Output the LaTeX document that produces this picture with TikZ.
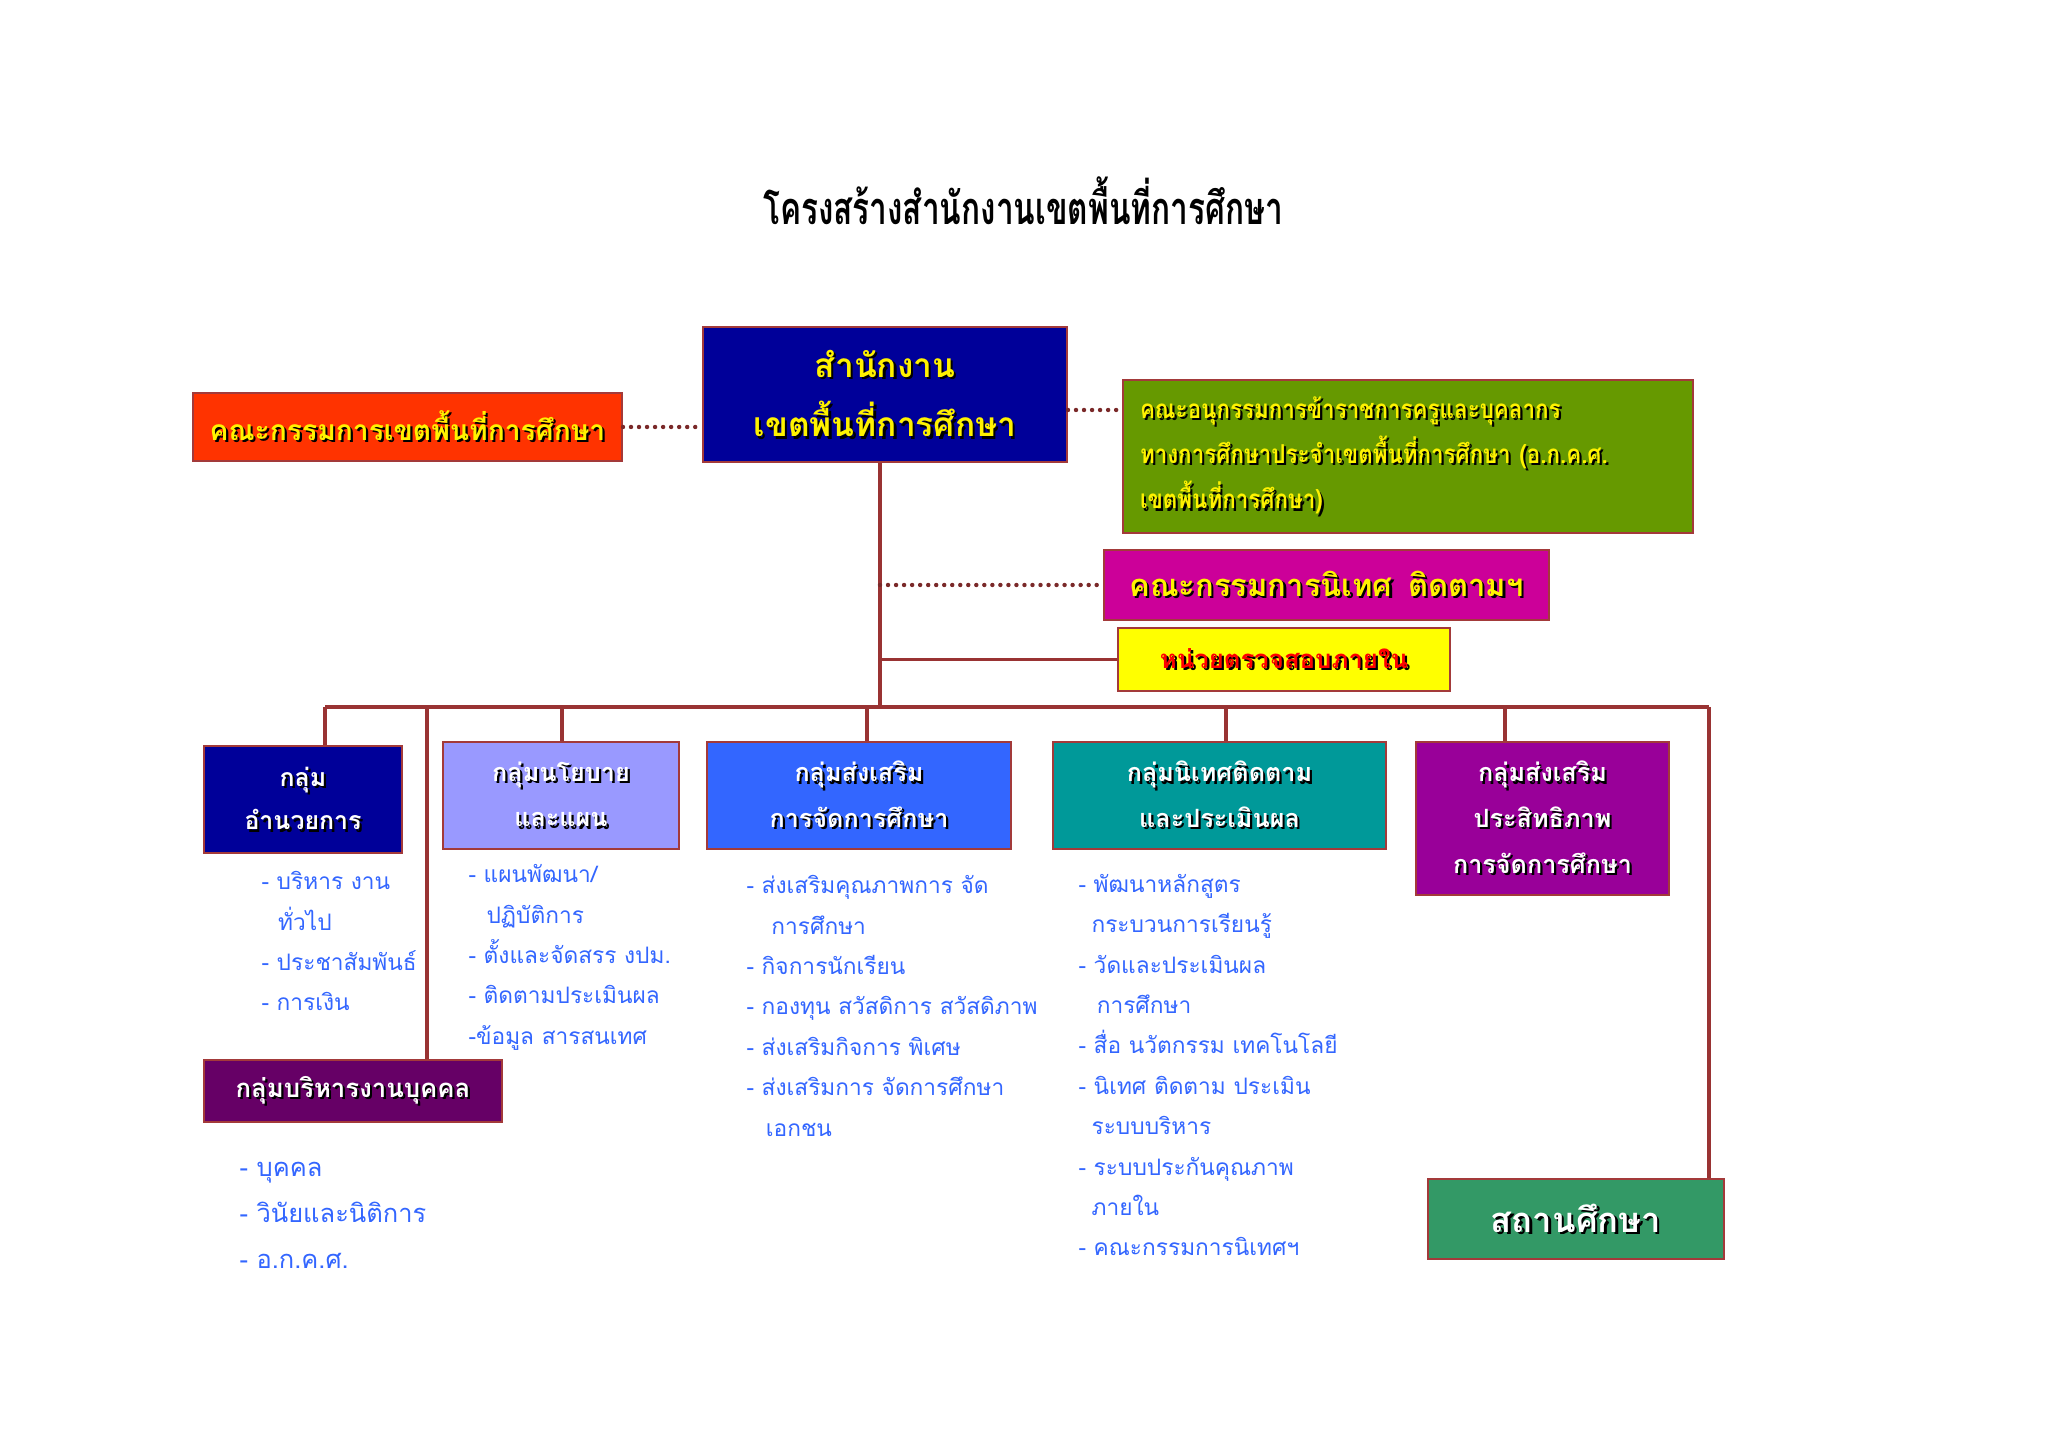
\documentclass[tikz,border=0pt]{standalone}
\usepackage{fontspec}
\setmainfont{Loma}[Script=Thai]
\newfontfamily\titlefont{Loma}[Script=Thai,FakeStretch=0.70]
\newfontfamily\narrowfont{Loma}[Script=Thai,FakeStretch=0.86]
\usepackage{tikz}

\definecolor{linkred}{HTML}{993333}
\definecolor{edgered}{HTML}{A33A3A}
\definecolor{navyfill}{HTML}{000099}
\definecolor{boardfill}{HTML}{FF3300}
\definecolor{councilfill}{HTML}{669900}
\definecolor{supfill}{HTML}{CC0099}
\definecolor{auditfill}{HTML}{FFFF00}
\definecolor{policyfill}{HTML}{9999FF}
\definecolor{promofill}{HTML}{3366FF}
\definecolor{evalfill}{HTML}{009999}
\definecolor{effifill}{HTML}{990099}
\definecolor{staffill}{HTML}{660066}
\definecolor{schoolfill}{HTML}{339966}
\definecolor{listblue}{HTML}{3366FF}

\newcommand{\shd}[1]{\leavevmode\rlap{\kern0.8pt\raisebox{-0.8pt}{\textcolor{black}{#1}}}#1}

\begin{document}
\begin{tikzpicture}[x=1in, y=1in,
  box/.style={draw=edgered, line width=0.7pt, inner sep=0pt, align=center, text=white,
    font=\bfseries\fontsize{9.1}{16.5}\selectfont},
  duty/.style={anchor=north west, inner sep=0pt, align=left, text=listblue,
    font=\fontsize{8.2}{14.6}\selectfont},
  link/.style={linkred, line width=1.1pt},
  dotlink/.style={linkred!80!black, line width=1.6pt, line cap=round, dash pattern=on 0pt off 2.9pt}]
\node[font=\titlefont\bfseries\fontsize{16.3}{16}\selectfont] (title) at (5.115,6.235) {โครงสร้างสำนักงานเขตพื้นที่การศึกษา};
\node[box, fill=navyfill, text=yellow, minimum width=1.82in, minimum height=0.675in, font=\bfseries\fontsize{12.1}{21.6}\selectfont] (office) at (4.425,5.2675) {\shd{สำนักงาน}\\\shd{เขตพื้นที่การศึกษา}};
\node[box, fill=boardfill, text=yellow, minimum width=2.145in, minimum height=0.34in, font=\bfseries\fontsize{10.2}{16}\selectfont] (board) at (2.0375,5.105) {\shd{คณะกรรมการเขตพื้นที่การศึกษา}};
\node[box, fill=councilfill, text=yellow, align=left, text width=2.68in, inner xsep=0.085in, minimum height=0.765in, font=\narrowfont\bfseries\fontsize{9.4}{16.4}\selectfont] (council) at (7.04,4.9575) {\shd{คณะอนุกรรมการข้าราชการครูและบุคลากร}\\\shd{ทางการศึกษาประจำเขตพื้นที่การศึกษา (อ.ก.ค.ศ.}\\\shd{เขตพื้นที่การศึกษา)}};
\node[box, fill=supfill, text=yellow, minimum width=2.225in, minimum height=0.35in, font=\bfseries\fontsize{11.2}{16}\selectfont] (supervise) at (6.6325,4.315) {\shd{คณะกรรมการนิเทศ\enspace ติดตามฯ}};
\node[box, fill=auditfill, text=red, minimum width=1.66in, minimum height=0.315in, font=\bfseries\fontsize{9.3}{16}\selectfont] (audit) at (6.42,3.9425) {\shd{หน่วยตรวจสอบภายใน}};
\node[box, fill=navyfill, minimum width=0.99in, minimum height=0.535in, font=\bfseries\fontsize{9}{15.8}\selectfont] (admin) at (1.515,3.2425) {\shd{กลุ่ม}\\\shd{อำนวยการ}};
\node[box, fill=policyfill, minimum width=1.18in, minimum height=0.535in] (policy) at (2.805,3.2625) {\shd{กลุ่มนโยบาย}\\\shd{และแผน}};
\node[box, fill=promofill, minimum width=1.52in, minimum height=0.535in] (promote) at (4.295,3.2625) {\shd{กลุ่มส่งเสริม}\\\shd{การจัดการศึกษา}};
\node[box, fill=evalfill, minimum width=1.665in, minimum height=0.535in] (evaluate) at (6.0975,3.2625) {\shd{กลุ่มนิเทศติดตาม}\\\shd{และประเมินผล}};
\node[box, fill=effifill, minimum width=1.265in, minimum height=0.765in] (efficiency) at (7.7125,3.1475) {\shd{กลุ่มส่งเสริม}\\\shd{ประสิทธิภาพ}\\\shd{การจัดการศึกษา}};
\node[box, fill=staffill, minimum width=1.49in, minimum height=0.31in, font=\bfseries\fontsize{9.3}{16}\selectfont] (staff) at (1.765,1.785) {\shd{กลุ่มบริหารงานบุคคล}};
\node[box, fill=schoolfill, minimum width=1.48in, minimum height=0.40in, font=\bfseries\fontsize{12.5}{16}\selectfont] (school) at (7.88,1.145) {\shd{สถานศึกษา}};
\node[duty] (admintasks) at (1.305,2.885) {- บริหาร งาน\\\hspace*{6pt}ทั่วไป\\- ประชาสัมพันธ์\\- การเงิน};
\node[duty] (policytasks) at (2.34,2.92) {- แผนพัฒนา/\\\hspace*{6.5pt}ปฏิบัติการ\\- ตั้งและจัดสรร งปม.\\- ติดตามประเมินผล\\-ข้อมูล สารสนเทศ};
\node[duty] (promotetasks) at (3.73,2.865) {- ส่งเสริมคุณภาพการ จัด\\\hspace*{9pt}การศึกษา\\- กิจการนักเรียน\\- กองทุน สวัสดิการ สวัสดิภาพ\\- ส่งเสริมกิจการ พิเศษ\\- ส่งเสริมการ จัดการศึกษา\\\hspace*{7pt}เอกชน};
\node[duty] (evaltasks) at (5.39,2.8725) {- พัฒนาหลักสูตร\\\hspace*{4.7pt}กระบวนการเรียนรู้\\- วัดและประเมินผล\\\hspace*{6.6pt}การศึกษา\\- สื่อ นวัตกรรม เทคโนโลยี\\- นิเทศ ติดตาม ประเมิน\\\hspace*{4.7pt}ระบบบริหาร\\- ระบบประกันคุณภาพ\\\hspace*{4.7pt}ภายใน\\- คณะกรรมการนิเทศฯ};
\node[duty, font=\fontsize{9.2}{16.5}\selectfont] (stafftasks) at (1.195,1.43) {- บุคคล\\- วินัยและนิติการ\\- อ.ก.ค.ศ.};
\coordinate (trunk) at (4.40,3.705);
\coordinate (d1) at (1.625,3.705);
\coordinate (d2) at (2.135,3.705);
\coordinate (d3) at (2.81,3.705);
\coordinate (d4) at (4.335,3.705);
\coordinate (d5) at (6.13,3.705);
\coordinate (d6) at (7.525,3.705);
\coordinate (d7) at (8.545,3.705);
\draw[dotlink] (board.east) -- (board.east -| office.west);
\draw[dotlink] ([yshift=-0.0775in]office.east) -- ([yshift=-0.0775in]office.east -| council.west);
\draw[link] (office.south -| trunk) -- (trunk);
\draw[dotlink] (supervise.west -| trunk) -- (supervise.west);
\draw[link] (audit.west -| trunk) -- (audit.west);
\draw[link] (d1) -- (d7);
\draw[link] (d1) -- (d1 |- admin.north);
\draw[link] (d2) -- (d2 |- staff.north);
\draw[link] (d3) -- (d3 |- policy.north);
\draw[link] (d4) -- (d4 |- promote.north);
\draw[link] (d5) -- (d5 |- evaluate.north);
\draw[link] (d6) -- (d6 |- efficiency.north);
\draw[link] (d7) -- (d7 |- school.north);
\path (0,0) rectangle (10.24,7.24);
\end{tikzpicture}
\end{document}
